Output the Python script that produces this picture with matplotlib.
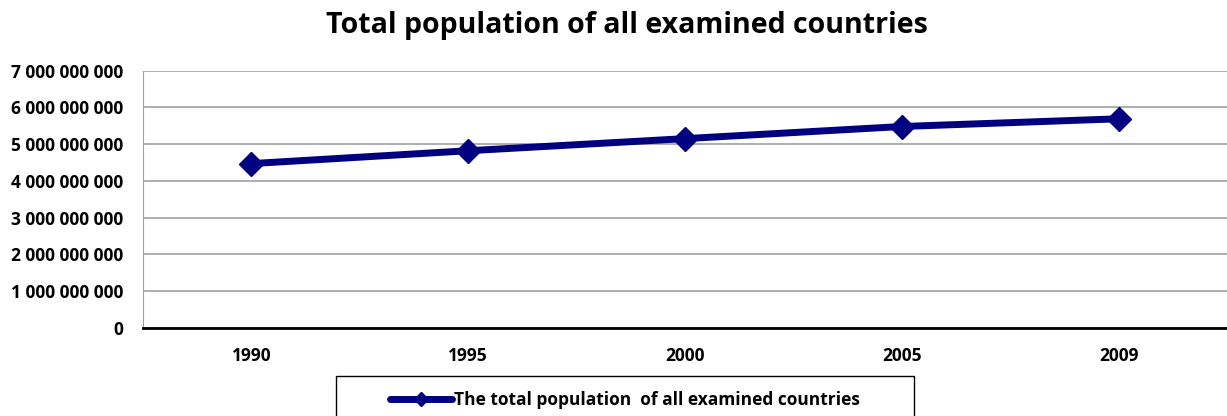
import matplotlib.pyplot as plt
from matplotlib.patches import Rectangle
from matplotlib.ticker import FuncFormatter

years = ['1990', '1995', '2000', '2005', '2009']
population = [4.47e9, 4.82e9, 5.15e9, 5.48e9, 5.69e9]
series_label = 'The total population  of all examined countries'
title = 'Total population of all examined countries'

plt.rcParams['font.family'] = ['Open Sans', 'DejaVu Sans']
plt.rcParams['font.weight'] = 'bold'

fig = plt.figure(figsize=(12.27, 4.16), dpi=100)
ax = fig.add_axes([143 / 1227, 1 - 327.7 / 416, 1 - 143 / 1227, (327.7 - 70.7) / 416])

x = range(len(years))
ax.plot(x, population, color='#000080', linewidth=5, marker='D', markersize=12,
        label=series_label, solid_capstyle='round')

ax.set_xlim(-0.5, len(years) - 0.5)
ax.set_ylim(0, 7e9)
ax.set_yticks([i * 1e9 for i in range(8)])
ax.yaxis.set_major_formatter(FuncFormatter(lambda v, p: '{:,.0f}'.format(v).replace(',', ' ')))
ax.set_xticks(list(x))
ax.set_xticklabels(years)
ax.tick_params(axis='both', length=0, labelsize=12.5, colors='black')
ax.tick_params(axis='y', pad=14)
ax.tick_params(axis='x', pad=14)
for lbl in ax.get_xticklabels() + ax.get_yticklabels():
    lbl.set_fontweight('bold')

ax.grid(axis='y', color='#a0a0a0', linewidth=1.2)
ax.set_axisbelow(True)
ax.spines['top'].set_visible(False)
ax.spines['right'].set_visible(False)
ax.spines['left'].set_color('#a0a0a0')
ax.spines['bottom'].set_color('black')
ax.spines['bottom'].set_linewidth(2)

fig.text(627 / 1227, 1 - 25 / 416, title, ha='center', va='center', fontsize=20.5, fontweight='bold')

# legend box (reference box runs off the bottom of the image)
fig.patches.append(Rectangle((336 / 1227, -0.05), 578 / 1227, 0.05 + 1 - 376 / 416,
                             transform=fig.transFigure, facecolor='white',
                             edgecolor='black', linewidth=1, zorder=0))
leg = fig.legend(loc='center', bbox_to_anchor=(625 / 1227, 1 - 400 / 416),
                 frameon=False, fontsize=12.5, handlelength=3.6, handletextpad=0.1,
                 markerscale=0.6, borderpad=0)
for t in leg.get_texts():
    t.set_fontweight('bold')

fig.savefig('out.png', dpi=100)
